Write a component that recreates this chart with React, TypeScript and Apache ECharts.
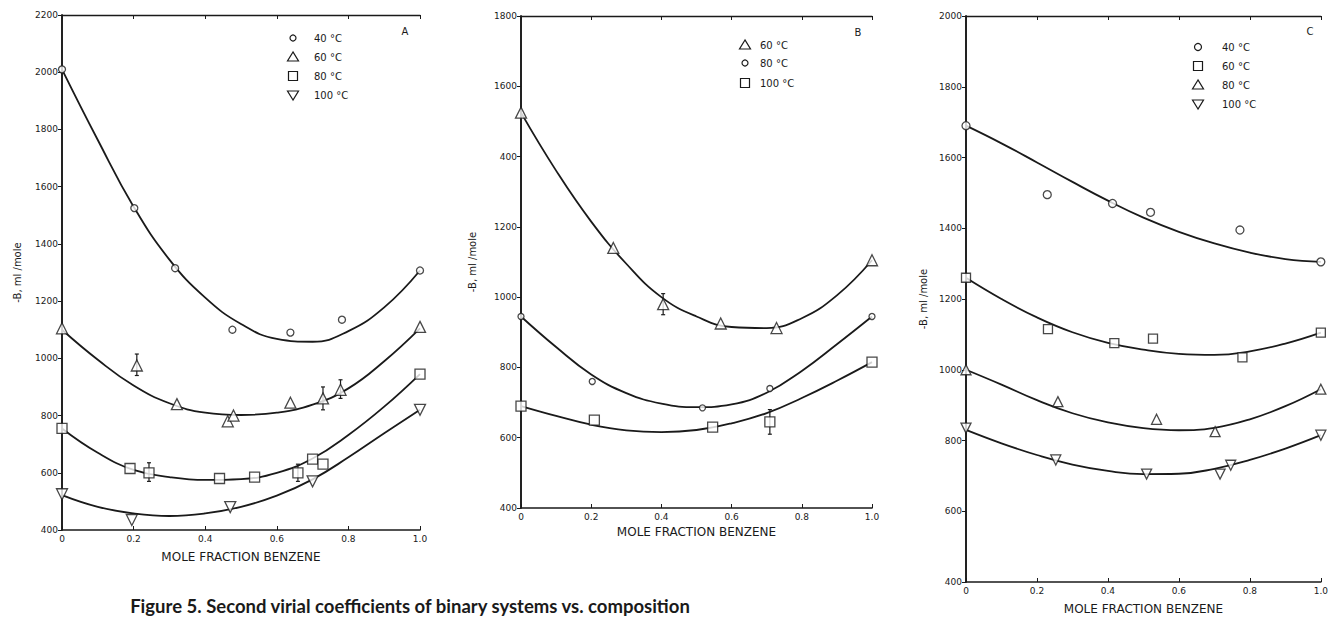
import React, { useEffect, useRef } from "react";
import * as echarts from "echarts";

// ---- data ----
const curveX = [0, 0.1, 0.2, 0.3, 0.4, 0.5, 0.6, 0.7, 0.8, 0.9, 1.0];
const xTickLabels = ["0", "0.2", "0.4", "0.6", "0.8", "1.0"];

// Panel A
const ptsA40 = [[0, 2010], [0.202, 1525], [0.316, 1315], [0.476, 1100], [0.638, 1090], [0.782, 1135], [1.0, 1307]];
const curA40 = [2010, 1763, 1530, 1345, 1212, 1120, 1068, 1058, 1095, 1178, 1307];
const ptsA60 = [[0, 1105], [0.209, 975], [0.321, 840], [0.463, 780], [0.479, 800], [0.638, 845], [0.729, 860], [0.778, 890], [1.0, 1110]];
const curA60 = [1100, 995, 905, 843, 810, 802, 810, 838, 895, 990, 1105];
const ptsA80 = [[0, 755], [0.19, 615], [0.243, 600], [0.44, 580], [0.538, 585], [0.659, 600], [0.70, 648], [0.729, 630], [1.0, 945]];
const curA80 = [755, 670, 610, 585, 575, 578, 600, 650, 732, 831, 945];
const ptsA100 = [[0, 525], [0.195, 435], [0.47, 480], [0.70, 570], [1.0, 820]];
const curA100 = [522, 481, 458, 449, 458, 481, 520, 577, 654, 738, 820];
const errA = [[0.209, 940, 1015], [0.729, 820, 900], [0.778, 860, 925], [0.243, 570, 635], [0.659, 570, 630]];

// Panel B
const ptsB60 = [[0, 1525], [0.263, 1140], [0.405, 980], [0.569, 925], [0.728, 912], [1.0, 1105]];
const curB60 = [1525, 1360, 1215, 1095, 1000, 945, 915, 912, 940, 1005, 1105];
const ptsB80 = [[0, 945], [0.203, 760], [0.517, 685], [0.709, 740], [1.0, 945]];
const curB80 = [945, 858, 780, 727, 697, 687, 695, 728, 790, 866, 945];
const ptsB100 = [[0, 690], [0.209, 650], [0.546, 630], [0.709, 645], [1.0, 815]];
const curB100 = [690, 662, 637, 621, 616, 622, 641, 670, 713, 762, 815];
const errB = [[0.405, 950, 1010], [0.709, 610, 680]];

// Panel C
const ptsC40 = [[0, 1690], [0.229, 1495], [0.413, 1470], [0.52, 1445], [0.772, 1395], [1.0, 1305]];
const curC40 = [1690, 1640, 1586, 1531, 1478, 1430, 1390, 1357, 1331, 1313, 1305];
const ptsC60 = [[0, 1260], [0.231, 1115], [0.418, 1075], [0.527, 1088], [0.779, 1035], [1.0, 1105]];
const curC60 = [1260, 1200, 1148, 1106, 1076, 1057, 1045, 1042, 1052, 1074, 1105];
const ptsC80 = [[0, 1000], [0.259, 910], [0.537, 860], [0.702, 825], [1.0, 945]];
const curC80 = [1000, 958, 914, 877, 851, 835, 829, 836, 860, 897, 945];
const ptsC100 = [[0, 835], [0.253, 745], [0.509, 705], [0.716, 705], [0.746, 730], [1.0, 815]];
const curC100 = [830, 792, 759, 732, 714, 705, 706, 720, 745, 777, 815];

const legendA = ["40 °C", "60 °C", "80 °C", "100 °C"];
const legendB = ["60 °C", "80 °C", "100 °C"];
const legendC = ["40 °C", "60 °C", "80 °C", "100 °C"];

const yTitle = "-B, ml /mole";
const xTitle = "MOLE FRACTION BENZENE";
const caption = "Figure 5. Second virial coefficients of binary systems vs. composition";

const FONT = "DejaVu Sans";
const INK = "#1a1a1a";

function curve(ys: number[], axis: number) {
  return {
    type: "line",
    xAxisIndex: axis,
    yAxisIndex: axis,
    data: curveX.map((x, i) => [x, ys[i]]),
    smooth: 0.45,
    showSymbol: false,
    symbol: "none",
    lineStyle: { color: INK, width: 1.8 },
    z: 3,
    silent: true,
  };
}

function points(pts: number[][], axis: number, symbol: string, size: number, rotate = 0) {
  return {
    type: "scatter",
    xAxisIndex: axis,
    yAxisIndex: axis,
    data: pts,
    symbol,
    symbolSize: size,
    symbolRotate: rotate,
    clip: false,
    itemStyle: { color: "#fff", borderColor: INK, borderWidth: 1.3 },
    z: 5,
  };
}

function errors(list: number[][], axis: number) {
  return {
    type: "custom",
    xAxisIndex: axis,
    yAxisIndex: axis,
    data: list,
    z: 4,
    renderItem: (params: any, api: any) => {
      const lo = api.coord([api.value(0), api.value(1)]);
      const hi = api.coord([api.value(0), api.value(2)]);
      const st = { stroke: INK, lineWidth: 1.2 };
      return {
        type: "group",
        children: [
          { type: "line", shape: { x1: lo[0], y1: lo[1], x2: hi[0], y2: hi[1] }, style: st },
          { type: "line", shape: { x1: lo[0] - 2, y1: lo[1], x2: lo[0] + 2, y2: lo[1] }, style: st },
          { type: "line", shape: { x1: hi[0] - 2, y1: hi[1], x2: hi[0] + 2, y2: hi[1] }, style: st },
        ],
      };
    },
  };
}

function bottomX(grid: number, gap: number) {
  return {
    type: "value",
    gridIndex: grid,
    min: 0,
    max: 1,
    interval: 0.2,
    position: "bottom",
    name: xTitle,
    nameLocation: "middle",
    nameGap: gap,
    nameTextStyle: { fontFamily: FONT, fontSize: 12, color: INK },
    axisLine: { lineStyle: { color: INK, width: 1.6 } },
    axisTick: { inside: true, length: 4, lineStyle: { color: INK } },
    axisLabel: {
      fontFamily: FONT,
      fontSize: 9,
      color: INK,
      margin: 4,
      formatter: (v: number) => xTickLabels[Math.round(v / 0.2)],
    },
    splitLine: { show: false },
  };
}

function topX(grid: number) {
  return {
    type: "value",
    gridIndex: grid,
    min: 0,
    max: 1,
    interval: 0.2,
    position: "top",
    axisLine: { lineStyle: { color: INK, width: 1.4 } },
    axisTick: { inside: true, length: 4, lineStyle: { color: INK } },
    axisLabel: { show: false },
    splitLine: { show: false },
  };
}

function leftY(grid: number, max: number, gap: number, fmt?: (v: number) => string) {
  return {
    type: "value",
    gridIndex: grid,
    min: 400,
    max,
    interval: 200,
    position: "left",
    name: yTitle,
    nameLocation: "middle",
    nameRotate: 90,
    nameGap: gap,
    nameTextStyle: { fontFamily: FONT, fontSize: 10, color: INK },
    axisLine: { lineStyle: { color: INK, width: 1.6 } },
    axisTick: { inside: false, length: 3, lineStyle: { color: INK } },
    axisLabel: {
      fontFamily: FONT,
      fontSize: 9,
      color: INK,
      margin: 4,
      formatter: fmt || ((v: number) => String(v)),
    },
    splitLine: { show: false },
  };
}

function rightY(grid: number, max: number) {
  return {
    type: "value",
    gridIndex: grid,
    min: 400,
    max,
    interval: 200,
    position: "right",
    axisLine: { lineStyle: { color: INK, width: 1.6 } },
    axisTick: { inside: true, length: 4, lineStyle: { color: INK } },
    axisLabel: { show: false },
    splitLine: { show: false },
  };
}

function marker(kind: string, x: number, y: number) {
  const style = { fill: "#fff", stroke: INK, lineWidth: 1.2 };
  if (kind === "circle") return { type: "circle", shape: { cx: x, cy: y, r: 3.5 }, style };
  if (kind === "smallcircle") return { type: "circle", shape: { cx: x, cy: y, r: 3 }, style };
  if (kind === "rect") return { type: "rect", shape: { x: x - 4.5, y: y - 4.5, width: 9, height: 9 }, style };
  if (kind === "up") return { type: "polygon", shape: { points: [[x, y - 5], [x - 5.5, y + 4], [x + 5.5, y + 4]] }, style };
  return { type: "polygon", shape: { points: [[x, y + 5], [x - 5.5, y - 4], [x + 5.5, y - 4]] }, style };
}

function legendGroup(kinds: string[], labels: string[], mx: number, tx: number, ys: number[]) {
  const els: any[] = [];
  labels.forEach((lab, i) => {
    els.push(marker(kinds[i], mx, ys[i]));
    els.push({
      type: "text",
      x: tx,
      y: ys[i],
      style: { text: lab, font: `10px "${FONT}"`, fill: INK, verticalAlign: "middle", align: "left" },
    });
  });
  return els;
}

export default function App() {
  const ref = useRef<HTMLDivElement>(null);
  useEffect(() => {
    if (!ref.current) return;
    const chart = echarts.init(ref.current, null, { renderer: "svg" });
    const option: any = {
      animation: false,
      backgroundColor: "#fff",
      grid: [
        { left: 62, top: 15, width: 358, height: 515 },
        { left: 521, top: 16, width: 351, height: 492 },
        { left: 966, top: 16, width: 357, height: 568 },
      ],
      xAxis: [bottomX(0, 21), bottomX(1, 18), bottomX(2, 21), topX(0), topX(1), topX(2)],
      yAxis: [
        leftY(0, 2200, 40),
        leftY(1, 1800, 44, (v: number) => (v === 1400 ? "400" : String(v))),
        leftY(2, 2000, 38),
        rightY(0, 2200),
        rightY(1, 1800),
        rightY(2, 2000),
      ],
      series: [
        curve(curA40, 0), curve(curA60, 0), curve(curA80, 0), curve(curA100, 0),
        points(ptsA40, 0, "circle", 7),
        points(ptsA60, 0, "triangle", 11),
        points(ptsA80, 0, "rect", 10),
        points(ptsA100, 0, "triangle", 11, 180),
        errors(errA, 0),

        curve(curB60, 1), curve(curB80, 1), curve(curB100, 1),
        points(ptsB60, 1, "triangle", 11),
        points(ptsB80, 1, "circle", 6),
        points(ptsB100, 1, "rect", 10),
        errors(errB, 1),

        curve(curC40, 2), curve(curC60, 2), curve(curC80, 2), curve(curC100, 2),
        points(ptsC40, 2, "circle", 8),
        points(ptsC60, 2, "rect", 9),
        points(ptsC80, 2, "triangle", 10),
        points(ptsC100, 2, "triangle", 10, 180),
      ],
      graphic: [
        ...legendGroup(["smallcircle", "up", "rect", "down"], legendA, 293, 314, [38, 57, 76, 95]),
        ...legendGroup(["up", "smallcircle", "rect"], legendB, 745, 760, [45, 63, 83]),
        ...legendGroup(["circle", "rect", "up", "down"], legendC, 1198, 1222, [47, 66, 85, 104]),
        { type: "text", x: 405, y: 31, style: { text: "A", font: `10px "${FONT}"`, fill: INK, align: "center", verticalAlign: "middle" } },
        { type: "text", x: 858, y: 32, style: { text: "B", font: `10px "${FONT}"`, fill: INK, align: "center", verticalAlign: "middle" } },
        { type: "text", x: 1310, y: 31, style: { text: "C", font: `10px "${FONT}"`, fill: INK, align: "center", verticalAlign: "middle" } },
        {
          type: "text",
          x: 410,
          y: 606,
          style: { text: caption, font: `bold 18.5px "Lato"`, fill: INK, align: "center", verticalAlign: "middle" },
        },
      ],
    };
    chart.setOption(option);
    return () => chart.dispose();
  }, []);
  return (
    <div
      ref={ref}
      style={{ position: "fixed", left: 0, top: 0, width: 1331, height: 620, background: "#fff" }}
    />
  );
}
